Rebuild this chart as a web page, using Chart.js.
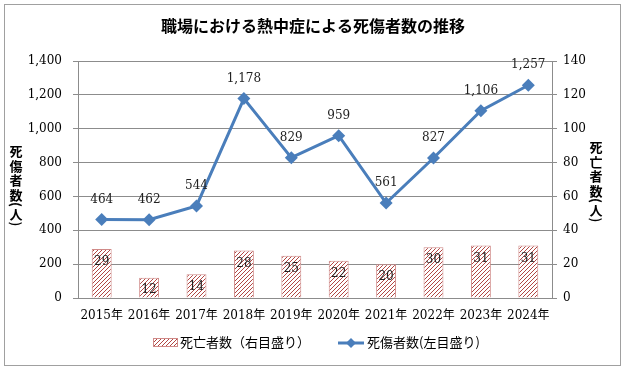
<!DOCTYPE html>
<html>
<head>
<meta charset="utf-8">
<script src="https://cdn.jsdelivr.net/npm/chart.js@4"></script>
<style>
  body { margin: 0; background: #fff; }
  #wrap { width: 627px; height: 371px; }
</style>
</head>
<body>
<div id="wrap"><canvas id="chart" width="627" height="371"></canvas></div>
<script>
// ---------------- data ----------------
const years = ['2015年', '2016年', '2017年', '2018年', '2019年', '2020年', '2021年', '2022年', '2023年', '2024年'];
const deaths = [29, 12, 14, 28, 25, 22, 20, 30, 31, 31];
const casualties = [464, 462, 544, 1178, 829, 959, 561, 827, 1106, 1257];
const leftTicks = [0, 200, 400, 600, 800, 1000, 1200, 1400];
const rightTicks = [0, 20, 40, 60, 80, 100, 120, 140];

const titleText = '職場における熱中症による死傷者数の推移';
const leftTitle = '死傷者数(人)';
const rightTitle = '死亡者数(人)';
const barLegend = '死亡者数（右目盛り）';
const lineLegend = '死傷者数(左目盛り)';

const serif = '"DejaVu Serif", "Noto Sans CJK JP", serif';
const jp = '"Noto Sans CJK JP", sans-serif';
const lineColor = '#4a7ebb';
const barBorder = '#d08a88';
const gridColor = '#8c8c8c';

// hatch fill for the bars
function makeHatch() {
  const c = document.createElement('canvas');
  c.width = 4; c.height = 4;
  const g = c.getContext('2d');
  g.fillStyle = '#fff';
  g.fillRect(0, 0, 4, 4);
  g.strokeStyle = '#a8322f';
  g.lineWidth = 0.9;
  g.beginPath();
  g.moveTo(0, 4); g.lineTo(4, 0);
  g.moveTo(-1, 1); g.lineTo(1, -1);
  g.moveTo(3, 5); g.lineTo(5, 3);
  g.stroke();
  return g.createPattern(c, 'repeat');
}
const hatch = makeHatch();

function fmt(v) { return v.toLocaleString('en-US'); }

// vertical upright text, parens rotated
function drawVertical(ctx, text, x, yTop, step) {
  ctx.save();
  ctx.font = 'bold 13px ' + jp;
  ctx.fillStyle = '#000';
  ctx.textAlign = 'center';
  ctx.textBaseline = 'middle';
  let y = yTop;
  for (const ch of text) {
    if (ch === '(' || ch === ')') {
      const w = ctx.measureText(ch).width;
      ctx.save();
      ctx.translate(x, y + w / 2);
      ctx.rotate(Math.PI / 2);
      ctx.fillText(ch, 0, 0);
      ctx.restore();
      y += w;
    } else {
      ctx.fillText(ch, x, y + step / 2);
      y += step;
    }
  }
  ctx.restore();
}

const decor = {
  id: 'decor',
  beforeDraw(chart) {
    const ctx = chart.ctx;
    ctx.save();
    ctx.fillStyle = '#fff';
    ctx.fillRect(0, 0, chart.width, chart.height);
    ctx.strokeStyle = '#a0a0a0';
    ctx.lineWidth = 1;
    ctx.strokeRect(4.5, 4.5, 616, 361);
    ctx.restore();
  },
  afterDraw(chart) {
    const ctx = chart.ctx;
    ctx.save();
    // title
    ctx.font = 'bold 16px ' + jp;
    ctx.fillStyle = '#000';
    ctx.textAlign = 'center';
    ctx.textBaseline = 'middle';
    ctx.fillText(titleText, 313, 25.5);

    // axis titles
    drawVertical(ctx, leftTitle, 16, 144, 14.5);
    drawVertical(ctx, rightTitle, 596, 140, 14.5);

    // legend
    ctx.textAlign = 'left';
    ctx.font = '13px ' + jp;
    ctx.fillStyle = hatch;
    ctx.fillRect(153, 338, 24, 8);
    ctx.strokeStyle = barBorder;
    ctx.lineWidth = 1;
    ctx.strokeRect(153.5, 338.5, 24, 8);
    ctx.fillStyle = '#000';
    ctx.fillText(barLegend, 180, 342);

    ctx.strokeStyle = lineColor;
    ctx.lineWidth = 3;
    ctx.beginPath();
    ctx.moveTo(338, 343); ctx.lineTo(364, 343);
    ctx.stroke();
    ctx.fillStyle = lineColor;
    ctx.beginPath();
    ctx.moveTo(351, 338); ctx.lineTo(356, 343); ctx.lineTo(351, 348); ctx.lineTo(346, 343);
    ctx.closePath(); ctx.fill();
    ctx.fillStyle = '#000';
    ctx.fillText(lineLegend, 367, 342);
    ctx.restore();
  },
  afterDatasetsDraw(chart) {
    const ctx = chart.ctx;
    ctx.save();
    ctx.font = '12px ' + serif;
    ctx.fillStyle = '#222';
    ctx.textAlign = 'center';
    ctx.textBaseline = 'middle';
    const bars = chart.getDatasetMeta(0).data;
    bars.forEach((b, i) => {
      const y = Math.min(b.y + 13, b.base - 8);
      ctx.fillText(deaths[i], b.x, y);
    });
    const pts = chart.getDatasetMeta(1).data;
    pts.forEach((p, i) => {
      ctx.fillText(fmt(casualties[i]), p.x, p.y - 20);
    });
    ctx.restore();
  }
};

new Chart(document.getElementById('chart'), {
  data: {
    labels: years,
    datasets: [{
      type: 'bar',
      label: barLegend,
      data: deaths,
      yAxisID: 'y1',
      backgroundColor: hatch,
      borderColor: barBorder,
      borderWidth: 1,
      barPercentage: 0.42,
      categoryPercentage: 1,
      order: 1
    }, {
      type: 'line',
      label: lineLegend,
      data: casualties,
      yAxisID: 'y',
      borderColor: lineColor,
      backgroundColor: lineColor,
      borderWidth: 3,
      pointStyle: 'rectRot',
      pointRadius: 6.5,
      pointBorderWidth: 0,
      tension: 0,
      order: 0
    }]
  },
  options: {
    responsive: false,
    animation: false,
    layout: { padding: { top: 61, left: 4, right: 4, bottom: 0 } },
    plugins: {
      legend: { display: false },
      title: { display: false },
      tooltip: { enabled: false }
    },
    scales: {
      x: {
        offset: true,
        grid: { display: false, drawTicks: false },
        border: { color: gridColor },
        ticks: { color: '#000', font: { family: serif, size: 12 }, padding: 11, maxRotation: 0 },
        afterFit(s) { s.height = 73; }
      },
      y: {
        position: 'left',
        min: 0, max: 1400,
        afterBuildTicks(s) { s.ticks = leftTicks.map(v => ({ value: v })); },
        grid: { color: gridColor, tickLength: 5 },
        border: { color: gridColor },
        ticks: { color: '#000', font: { family: serif, size: 12 }, padding: 11, callback: v => fmt(v) },
        afterFit(s) { s.width = 74; }
      },
      y1: {
        position: 'right',
        min: 0, max: 140,
        afterBuildTicks(s) { s.ticks = rightTicks.map(v => ({ value: v })); },
        grid: { drawOnChartArea: false, color: gridColor, tickLength: 5 },
        border: { color: gridColor },
        ticks: { color: '#000', font: { family: serif, size: 12 }, padding: 6 },
        afterFit(s) { s.width = 71; }
      }
    }
  },
  plugins: [decor]
});
</script>
</body>
</html>
